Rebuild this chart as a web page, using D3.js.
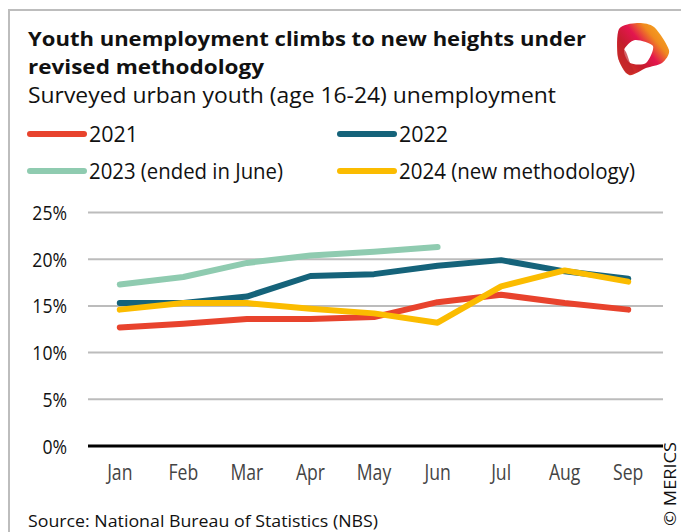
<!DOCTYPE html>
<html>
<head>
<meta charset="utf-8">
<script src="https://cdn.jsdelivr.net/npm/d3@7"></script>
<style>
  html, body { margin: 0; padding: 0; background: #fff; }
  svg { display: block; font-family: "Open Sans", "Noto Sans", sans-serif; }
</style>
</head>
<body>
<svg id="chart" width="681" height="532"></svg>
<script>
// Surveyed urban youth (16-24) unemployment rate, %
const months = ["Jan", "Feb", "Mar", "Apr", "May", "Jun", "Jul", "Aug", "Sep"];
const y2021 = [12.7, 13.1, 13.6, 13.6, 13.8, 15.4, 16.2, 15.3, 14.6];
const y2022 = [15.3, 15.3, 16.0, 18.2, 18.4, 19.3, 19.9, 18.7, 17.9];
const y2023 = [17.3, 18.1, 19.6, 20.4, 20.8, 21.3];
const y2024 = [14.6, 15.3, 15.3, 14.7, 14.2, 13.2, 17.1, 18.8, 17.6];
const yTicks = [0, 5, 10, 15, 20, 25];

const seriesNames = ["2021", "2022", "2023 (ended in June)", "2024 (new methodology)"];
const seriesColors = ["#e8432d", "#15637a", "#8fcbb0", "#fbbc00"];
const seriesValues = [y2021, y2022, y2023, y2024];

const svg = d3.select("#chart");

// frame
svg.append("path")
  .attr("d", "M9,532 V10 H681")
  .attr("fill", "none").attr("stroke", "#bdbdbd").attr("stroke-width", 2);

// titles
svg.append("text").attr("x", 28).attr("y", 46)
  .attr("font-size", 20).attr("font-weight", 700).attr("fill", "#111")
  .attr("textLength", 558).attr("lengthAdjust", "spacingAndGlyphs")
  .text("Youth unemployment climbs to new heights under");
svg.append("text").attr("x", 28).attr("y", 74)
  .attr("font-size", 20).attr("font-weight", 700).attr("fill", "#111")
  .attr("textLength", 236).attr("lengthAdjust", "spacingAndGlyphs")
  .text("revised methodology");
svg.append("text").attr("x", 28).attr("y", 103)
  .attr("font-size", 21).attr("fill", "#111")
  .attr("textLength", 528).attr("lengthAdjust", "spacingAndGlyphs")
  .text("Surveyed urban youth (age 16-24) unemployment");

// legend
const legendPos = [[30, 134], [340, 134], [30, 171], [340, 171]];
const legendW = [49, 49, 194, 236];
seriesNames.forEach((name, i) => {
  const [lx, ly] = legendPos[i];
  svg.append("line").attr("x1", lx).attr("x2", lx + 54).attr("y1", ly).attr("y2", ly)
    .attr("stroke", seriesColors[i]).attr("stroke-width", 6).attr("stroke-linecap", "round");
  svg.append("text").attr("x", lx + 59).attr("y", ly + 8)
    .attr("font-size", 21).attr("fill", "#111")
    .attr("textLength", legendW[i]).attr("lengthAdjust", "spacingAndGlyphs")
    .text(name);
});

// scales
const x = d3.scaleBand().domain(months).range([88, 660]);
const y = d3.scaleLinear().domain([0, 25]).range([446, 212.5]);

// gridlines
svg.append("g").selectAll("line").data(yTicks.filter(t => t > 0)).join("line")
  .attr("x1", 88).attr("x2", 663)
  .attr("y1", d => y(d)).attr("y2", d => y(d))
  .attr("stroke", "#bcbcbc").attr("stroke-width", 2);

// y-axis labels
const yAxis = d3.axisLeft(y).tickValues(yTicks).tickFormat(d => d + "%").tickSize(0).tickPadding(0);
const gy = svg.append("g").attr("transform", "translate(67,0)").call(yAxis);
gy.select(".domain").remove();
gy.selectAll("text").attr("font-size", 20).attr("fill", "#111")
  .attr("font-family", "Open Sans, sans-serif").attr("dy", "0.35em")
  .attr("transform", "scale(0.88,1)");

// x-axis labels
const xAxis = d3.axisBottom(x).tickSize(0).tickPadding(0);
const gx = svg.append("g").attr("transform", "translate(0,461)").call(xAxis);
gx.select(".domain").remove();
gx.selectAll("text").attr("font-size", 22).attr("fill", "#444")
  .attr("font-family", "Open Sans, sans-serif").attr("dy", "0.85em")
  .attr("transform", "scale(0.8,1)");

// zero line
svg.append("line").attr("x1", 88).attr("x2", 663).attr("y1", y(0)).attr("y2", y(0))
  .attr("stroke", "#000").attr("stroke-width", 3);

// series lines
const line = d3.line()
  .x((d, i) => x(months[i]) + x.bandwidth() / 2)
  .y(d => y(d));
[0, 1, 2, 3].forEach(i => {
  svg.append("path").datum(seriesValues[i])
    .attr("d", line)
    .attr("fill", "none")
    .attr("stroke", seriesColors[i])
    .attr("stroke-width", 6)
    .attr("stroke-linejoin", "round")
    .attr("stroke-linecap", "round");
});

// source
svg.append("text").attr("x", 28).attr("y", 527)
  .attr("font-size", 17).attr("fill", "#111")
  .attr("textLength", 350).attr("lengthAdjust", "spacingAndGlyphs")
  .text("Source: National Bureau of Statistics (NBS)");

// copyright
svg.append("text").attr("transform", "translate(676,526) rotate(-90)")
  .attr("font-size", 17).attr("fill", "#111")
  .attr("textLength", 84).attr("lengthAdjust", "spacingAndGlyphs")
  .text("© MERICS");

// logo: twisted ring
const defs = svg.append("defs");
const grad = defs.append("linearGradient").attr("id", "logoGrad")
  .attr("x1", "10%").attr("y1", "90%").attr("x2", "95%").attr("y2", "20%");
grad.append("stop").attr("offset", "0%").attr("stop-color", "#d83a26");
grad.append("stop").attr("offset", "30%").attr("stop-color", "#c41d2c");
grad.append("stop").attr("offset", "55%").attr("stop-color", "#e3164e");
grad.append("stop").attr("offset", "78%").attr("stop-color", "#f08a1e");
grad.append("stop").attr("offset", "100%").attr("stop-color", "#f6a623");
const closed = d3.line().curve(d3.curveCardinalClosed.tension(0.2));
const outer = [[619, 29], [637, 23], [654, 27], [669, 50], [662, 63], [646, 68], [629, 75], [618, 57]];
const hole = [[635, 40], [653, 46], [646, 63], [630, 63], [624, 50]];
svg.append("path")
  .attr("d", closed(outer) + closed(hole))
  .attr("fill", "url(#logoGrad)").attr("fill-rule", "evenodd");
// darker fold on the lower-left side of the ring
svg.append("path")
  .attr("d", closed([[619, 44], [626, 52], [630, 63], [634, 72], [626, 73], [618, 58]]))
  .attr("fill", "#c0232a").attr("opacity", 0.7);
</script>
</body>
</html>
